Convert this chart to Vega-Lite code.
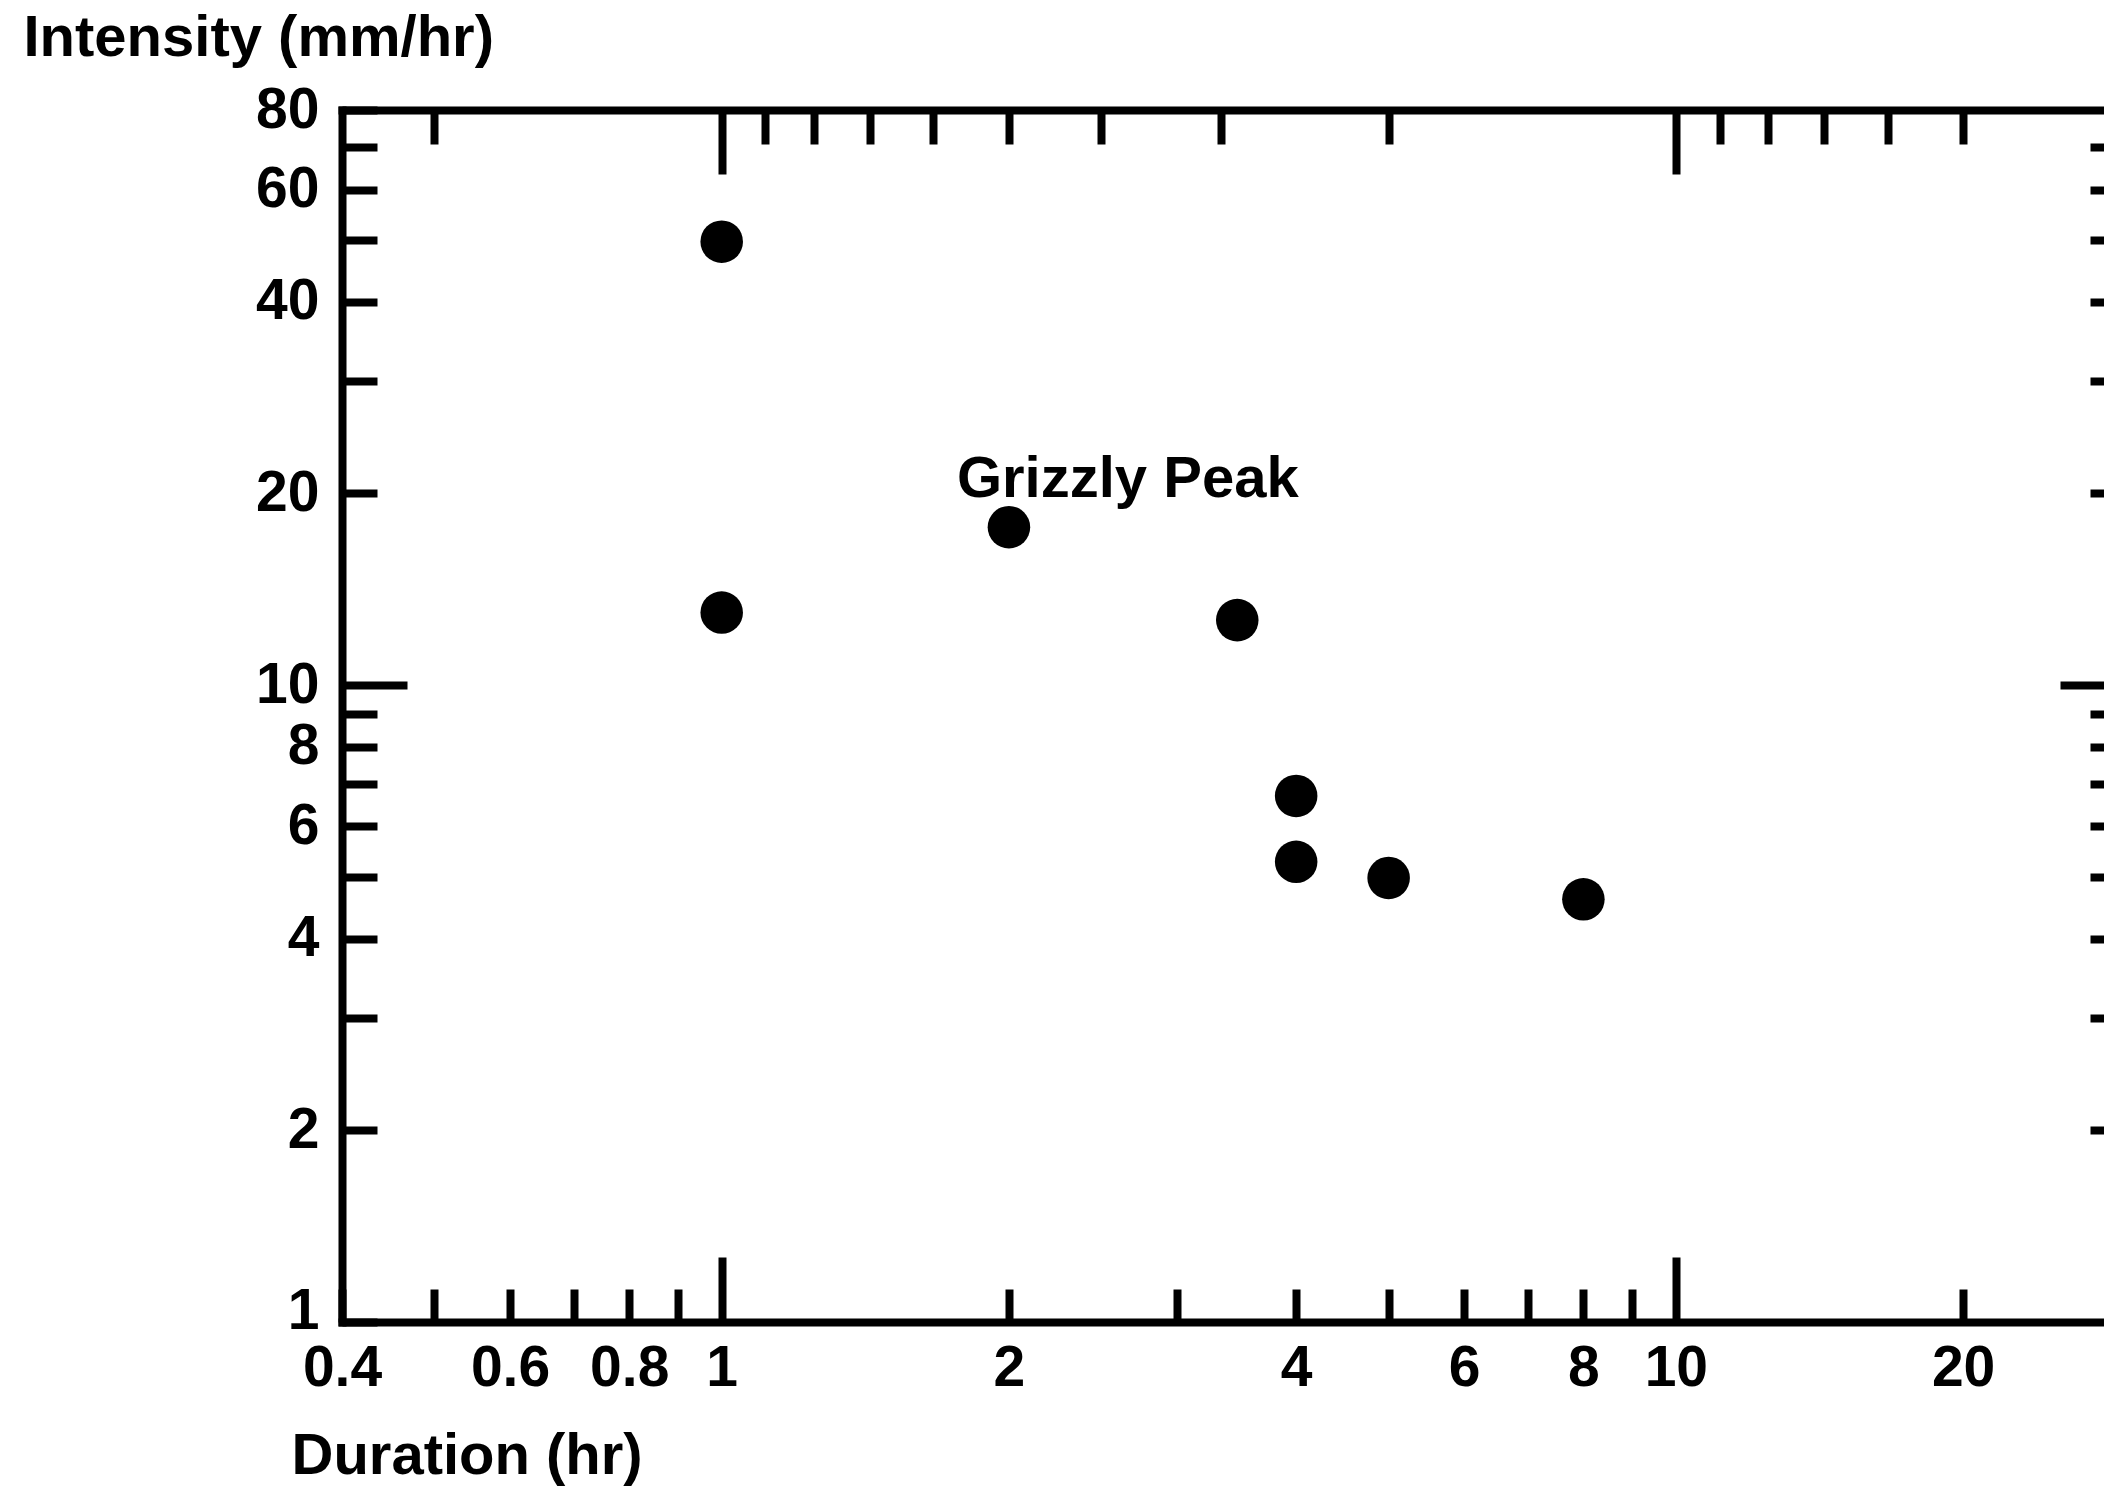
{
  "$schema": "https://vega.github.io/schema/vega-lite/v6.json",
  "width": 1762,
  "height": 1212,
  "autosize": {"type": "none"},
  "padding": {"left": 342, "top": 110, "right": 0, "bottom": 168},
  "background": "white",
  "config": {
    "view": {"stroke": null},
    "axis": {
      "grid": false,
      "domainColor": "black",
      "domainWidth": 8,
      "domainCap": "square",
      "tickColor": "black",
      "tickWidth": 8,
      "tickCap": "butt",
      "labelFont": "Liberation Sans",
      "labelFontWeight": "bold",
      "labelFontSize": 57,
      "labelColor": "black",
      "titleFont": "Liberation Sans",
      "titleFontWeight": "bold",
      "titleFontSize": 58,
      "titleColor": "black",
      "labelOverlap": false,
      "labelFlush": false,
      "labelBound": false
    }
  },
  "data": {
    "values": [
      {"duration": 1, "intensity": 49.7, "label": ""},
      {"duration": 1, "intensity": 13.0, "label": ""},
      {"duration": 2, "intensity": 17.7, "label": "Grizzly Peak"},
      {"duration": 3.47, "intensity": 12.65, "label": ""},
      {"duration": 4, "intensity": 6.7, "label": ""},
      {"duration": 4, "intensity": 5.28, "label": ""},
      {"duration": 5, "intensity": 4.98, "label": ""},
      {"duration": 8, "intensity": 4.61, "label": ""}
    ]
  },
  "layer": [
    {
      "mark": {"type": "circle", "size": 1810, "color": "black", "opacity": 1},
      "encoding": {
        "x": {
          "field": "duration",
          "type": "quantitative",
          "scale": {"type": "log", "domain": [0.4, 28.1], "nice": false},
          "axis": {
            "orient": "bottom",
            "values": [0.4, 0.5, 0.6, 0.7, 0.8, 0.9, 1, 2, 3, 4, 5, 6, 7, 8, 9, 10, 20],
            "format": "~g",
            "labelExpr": "indexof([0.4,0.6,0.8,1,2,4,6,8,10,20], datum.value) >= 0 ? datum.label : ''",
            "tickSize": {"condition": {"test": "datum.value == 1 || datum.value == 10", "value": -65}, "value": -33},
            "labelPadding": {"condition": {"test": "datum.value == 1 || datum.value == 10", "value": 83}, "value": 51},
            "labelAlign": "center",
            "labelBaseline": "top",
            "title": "Duration (hr)",
            "titleAngle": 0,
            "titleAlign": "left",
            "titleBaseline": "alphabetic",
            "titleX": -51,
            "titleY": 151
          }
        },
        "y": {
          "field": "intensity",
          "type": "quantitative",
          "scale": {"type": "log", "domain": [1, 80], "nice": false},
          "axis": {
            "orient": "left",
            "values": [1, 2, 3, 4, 5, 6, 7, 8, 9, 10, 20, 30, 40, 50, 60, 70, 80],
            "format": "~g",
            "labelExpr": "indexof([1,2,4,6,8,10,20,40,60,80], datum.value) >= 0 ? datum.label : ''",
            "tickSize": {"condition": {"test": "datum.value == 10", "value": -65}, "value": -35},
            "labelPadding": {"condition": {"test": "datum.value == 10", "value": 88}, "value": 58},
            "labelAlign": "right",
            "labelBaseline": {"condition": {"test": "datum.value == 1", "value": "alphabetic"}, "value": "middle"},
            "labelOffset": {"condition": {"test": "datum.value == 1", "value": 6}, "value": 0},
            "title": "Intensity (mm/hr)",
            "titleAngle": 0,
            "titleAlign": "left",
            "titleBaseline": "alphabetic",
            "titleX": -319,
            "titleY": -55
          }
        }
      }
    },
    {
      "mark": {"type": "text", "align": "left", "baseline": "alphabetic", "dx": -52, "dy": -30, "font": "Liberation Sans", "fontWeight": "bold", "fontSize": 58, "color": "black"},
      "encoding": {
        "x": {
          "field": "duration",
          "type": "quantitative",
          "scale": {"type": "log", "domain": [0.4, 28.1], "nice": false},
          "axis": {
            "orient": "top",
            "values": [0.5, 1, 1.1111, 1.25, 1.4286, 1.6667, 2, 2.5, 3.3333, 5, 10, 11.111, 12.5, 14.286, 16.667, 20],
            "labels": false,
            "title": null,
            "tickSize": {"condition": {"test": "datum.value == 1 || datum.value == 10", "value": -64}, "value": -34}
          }
        },
        "y": {
          "field": "intensity",
          "type": "quantitative",
          "scale": {"type": "log", "domain": [1, 80], "nice": false},
          "axis": {
            "orient": "right",
            "values": [2, 3, 4, 5, 6, 7, 8, 9, 10, 20, 30, 40, 50, 60, 70],
            "labels": false,
            "domain": false,
            "title": null,
            "tickSize": {"condition": {"test": "datum.value == 10", "value": -44}, "value": -14}
          }
        },
        "text": {"field": "label"}
      }
    }
  ],
  "resolve": {"axis": {"x": "independent", "y": "independent"}}
}
